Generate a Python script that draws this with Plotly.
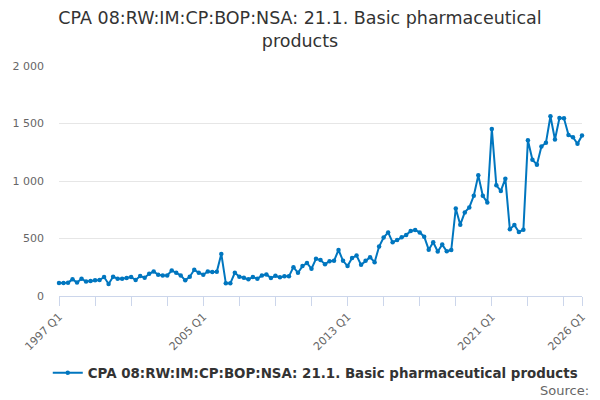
import plotly.graph_objects as go

# quarterly categories 1997 Q1 .. 2026 Q1
quarters = [f"{y} Q{q}" for y in range(1997, 2027) for q in range(1, 5)][:117]

values = [
    114, 114, 116, 145, 117, 150, 126, 131, 136, 139, 165, 105, 168, 150, 150, 156,
    165, 139, 173, 159, 193, 213, 185, 179, 179, 222, 202, 179, 136, 168, 228, 202,
    185, 213, 208, 210, 366, 110, 110, 202, 168, 159, 145, 165, 150, 179, 188, 156,
    176, 162, 171, 171, 251, 202, 260, 288, 237, 323, 312, 277, 303, 306, 400, 306,
    260, 331, 352, 271, 306, 337, 294, 430, 508, 553, 467, 487, 511, 530, 565, 574,
    553, 516, 403, 467, 387, 447, 389, 400, 761, 620, 727, 770, 871, 1049, 871, 813,
    1453, 963, 914, 1020, 580, 617, 556, 577, 1355, 1185, 1142, 1300, 1332, 1563, 1361, 1548,
    1545, 1401, 1380, 1323, 1395,
]

series_name = "CPA 08:RW:IM:CP:BOP:NSA: 21.1. Basic pharmaceutical products"
y_ticks = [0, 500, 1000, 1500, 2000]
y_ticktext = ["0", "500", "1 000", "1 500", "2 000"]
labelled = ["1997 Q1", "2005 Q1", "2013 Q1", "2021 Q1", "2026 Q1"]

x_tickvals = quarters[::8] + [quarters[-1]]
x_ticktext = [q if q in labelled else "" for q in x_tickvals]

font = "DejaVu Sans"

fig = go.Figure()
fig.add_trace(go.Scatter(
    x=quarters, y=values, name=series_name,
    mode="lines+markers",
    line=dict(color="#0076bf", width=2),
    marker=dict(color="#0076bf", size=4.5),
    cliponaxis=False,
))

fig.update_layout(
    width=600, height=400,
    margin=dict(l=57, r=16, t=66, b=102),
    paper_bgcolor="white", plot_bgcolor="white",
    font=dict(family=font, color="#666666", size=11),
    title=dict(
        text="CPA 08:RW:IM:CP:BOP:NSA: 21.1. Basic pharmaceutical<br>products",
        x=0.5, xanchor="center", yref="container", y=0.94, yanchor="middle",
        font=dict(family=font, size=17.5, color="#333333"),
    ),
    showlegend=True,
    legend=dict(
        orientation="h", x=0.49, xanchor="center", y=-0.335, yanchor="middle",
        font=dict(family=font, size=13.4, color="#333333", weight="bold"),
        itemwidth=30,
    ),
    hovermode="x",
)

fig.update_xaxes(
    type="category",
    range=[0, len(quarters) - 1],
    tickmode="array", tickvals=x_tickvals, ticktext=x_ticktext,
    tickangle=-45,
    ticks="outside", ticklen=9, tickcolor="#ccd6eb", tickwidth=1,
    showline=True, linecolor="#ccd6eb", linewidth=1,
    showgrid=False, zeroline=False,
    tickfont=dict(family=font, size=11, color="#666666"),
)

fig.update_yaxes(
    range=[0, 2000],
    tickmode="array", tickvals=y_ticks, ticktext=y_ticktext,
    showgrid=True, gridcolor="#e6e6e6", gridwidth=1,
    zeroline=False, showline=False,
    ticklabelstandoff=14,
    tickfont=dict(family=font, size=11, color="#666666"),
)

fig.add_annotation(
    text="Source:", xref="paper", yref="paper",
    x=1.018, xanchor="right", y=-0.41, yanchor="middle",
    showarrow=False, font=dict(family=font, size=13, color="#666666"),
)

# drop the default 8px page margin so the chart sits at the window corner
fig.write_html(
    "out.html",
    config={"displayModeBar": False},
    post_script="document.body.style.margin='0';",
)
